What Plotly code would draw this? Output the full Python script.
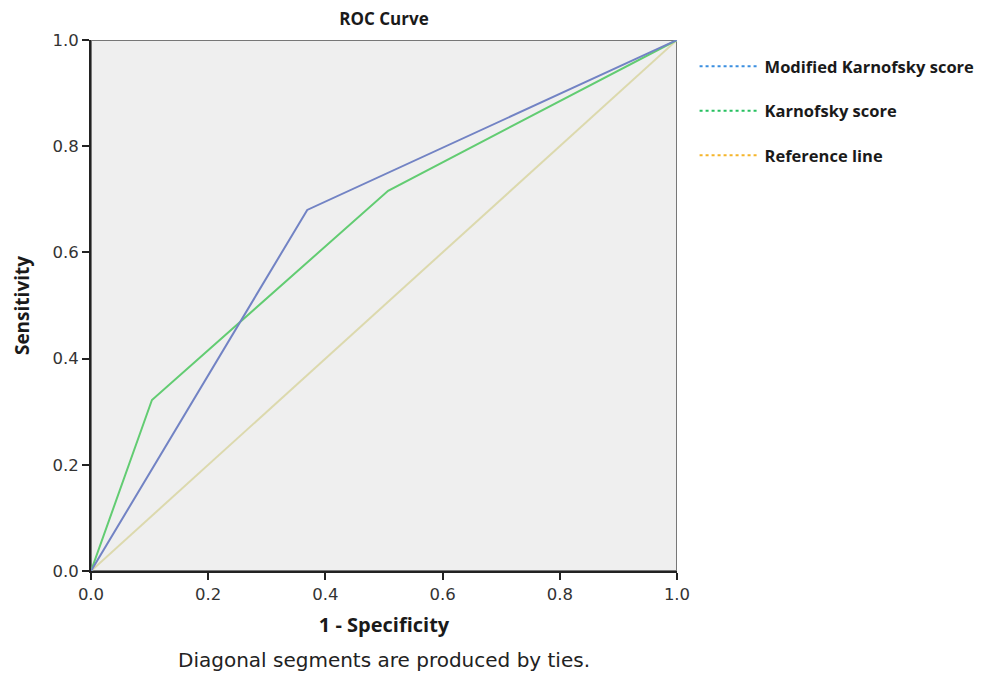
import plotly.graph_objects as go

# ROC curve data (1 - specificity, sensitivity)
mod_kps_fpr = [0.0, 0.369, 1.0]
mod_kps_tpr = [0.0, 0.680, 1.0]
kps_fpr = [0.0, 0.104, 0.507, 1.0]
kps_tpr = [0.0, 0.322, 0.716, 1.0]
ref_x = [0.0, 1.0]
ref_y = [0.0, 1.0]

series_names = ["Modified Karnofsky score", "Karnofsky score", "Reference line"]
legend_colors = ["#3b8fe0", "#27c060", "#f5b52a"]
line_colors = ["#7283c4", "#62cc72", "#dcd9ad"]

tick_vals = [0.0, 0.2, 0.4, 0.6, 0.8, 1.0]
tick_text = ["0.0", "0.2", "0.4", "0.6", "0.8", "1.0"]

# page body has an 8px margin; the figure is sized/placed to compensate
W, H = 981, 666
L, T = 83, 32
PW, PH = 586, 531
R = W - L - PW
B = H - T - PH

fig = go.Figure()

fig.add_trace(go.Scatter(x=ref_x, y=ref_y, mode="lines",
                         line=dict(color=line_colors[2], width=2), showlegend=False, hoverinfo="skip"))
fig.add_trace(go.Scatter(x=kps_fpr, y=kps_tpr, mode="lines",
                         line=dict(color=line_colors[1], width=2), showlegend=False))
fig.add_trace(go.Scatter(x=mod_kps_fpr, y=mod_kps_tpr, mode="lines",
                         line=dict(color=line_colors[0], width=2), showlegend=False))

for i, name in enumerate(series_names):
    fig.add_trace(go.Scatter(x=[None], y=[None], mode="lines", name="<b>" + name + "</b>",
                             legendgroup=name,
                             line=dict(color=legend_colors[i], width=2, dash="dot")))

title_font = "Open Sans, Lato, sans-serif"

fig.update_layout(
    width=W, height=H,
    margin=dict(l=L, r=R, t=T, b=B, autoexpand=False),
    paper_bgcolor="white",
    plot_bgcolor="#efefef",
    title=dict(text="<b>ROC Curve</b>", x=0.5, xref="paper", xanchor="center",
               y=1 - 11 / H, yanchor="middle",
               font=dict(family=title_font, size=17, color="#1a1a1a")),
    xaxis=dict(range=[0, 1], tickvals=tick_vals, ticktext=tick_text,
               ticks="outside", ticklen=7, tickwidth=2, tickcolor="#222",
               showline=True, linecolor="#222", linewidth=2,
               showgrid=False, zeroline=False,
               tickfont=dict(family="DejaVu Sans", size=16.5, color="#333"),
               title=dict(text="<b>1 - Specificity</b>", standoff=15,
                          font=dict(family=title_font, size=20, color="#1a1a1a"))),
    yaxis=dict(range=[0, 1], tickvals=tick_vals, ticktext=tick_text,
               ticks="outside", ticklen=7, tickwidth=2, tickcolor="#222",
               showline=True, linecolor="#222", linewidth=2,
               showgrid=False, zeroline=False,
               tickfont=dict(family="DejaVu Sans", size=16.5, color="#333"),
               title=dict(text="<b>Sensitivity</b>", standoff=18,
                          font=dict(family=title_font, size=19, color="#1a1a1a"))),
    legend=dict(x=1.03, y=1 - 9 / PH, xanchor="left", yanchor="top",
                font=dict(family=title_font, size=16.5, color="#1a1a1a"),
                itemwidth=60, tracegroupgap=20, bgcolor="rgba(0,0,0,0)"),
    shapes=[dict(type="rect", xref="x", yref="y", x0=0, y0=0, x1=1, y1=1,
                 line=dict(color="#777", width=2), layer="below")],
    annotations=[dict(text="Diagonal segments are produced by ties.", xref="paper", yref="paper",
                      x=0.5, y=-(652 - (T + PH)) / PH,
                      xanchor="center", yanchor="middle", showarrow=False,
                      font=dict(family="DejaVu Sans", size=20, color="#222"))],
)

fig.write_html("out.html")
